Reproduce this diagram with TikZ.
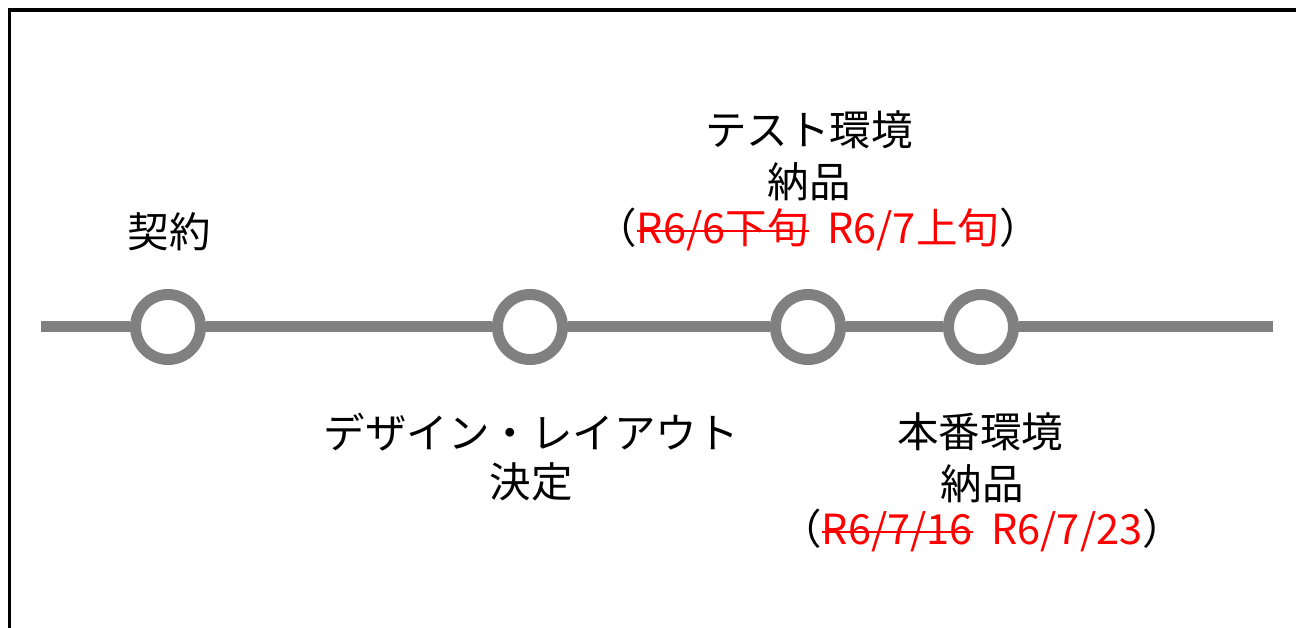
\documentclass[tikz,border=0pt]{standalone}
\usepackage{fontspec}
\setmainfont{Noto Sans CJK JP}
\newsavebox{\strkbox}
\newcommand{\strk}[1]{\sbox{\strkbox}{#1}\rlap{\rule[0.26em]{\wd\strkbox}{2pt}}\usebox{\strkbox}}
\definecolor{linegray}{HTML}{808080}
\begin{document}
\begin{tikzpicture}[x=1pt,y=-1pt,
  txt/.style={font=\fontsize{41.5}{48}\selectfont, inner sep=0pt, text=black},
  ms/.style={circle, draw=linegray, line width=11pt, fill=white, minimum size=65pt, inner sep=0pt},
  tl/.style={draw=linegray, line width=11pt},
  frame/.style={draw=black, line width=3.2pt}]
\useasboundingbox (0,0) rectangle (1296,628);
\clip (0,0) rectangle (1296,628);
\draw[frame] (9.5,650) -- (9.5,10) -- (1320,10);
% timeline
\coordinate (L) at (41,327);
\coordinate (R) at (1273,327);
\node[ms] (c1) at (168,327) {};
\node[ms] (c2) at (530,327) {};
\node[ms] (c3) at (808,327) {};
\node[ms] (c4) at (981,327) {};
\draw[tl] (L) -- (c1);
\draw[tl] (c1) -- (c2);
\draw[tl] (c2) -- (c3);
\draw[tl] (c3) -- (c4);
\draw[tl] (c4) -- (R);
% labels
\node[txt] (k) at (169,232) {契約};
\node[txt] (d1) at (531,432) {デザイン・レイアウト};
\node[txt] (d2) at (531,482) {決定};
\node[txt] (t1) at (809,130) {テスト環境};
\node[txt] (t2) at (809,182) {納品};
\node[txt] (t3) at (818,229) {（\textcolor{red}{\strk{R6/6下旬}\hspace{0.45em}R6/7上旬}）};
\node[txt] (h1) at (980,432) {本番環境};
\node[txt] (h2) at (982,484) {納品};
\node[txt] (h3) at (982,530) {（\textcolor{red}{\strk{R6/7/16}\hspace{0.45em}R6/7/23}）};
\end{tikzpicture}
\end{document}
